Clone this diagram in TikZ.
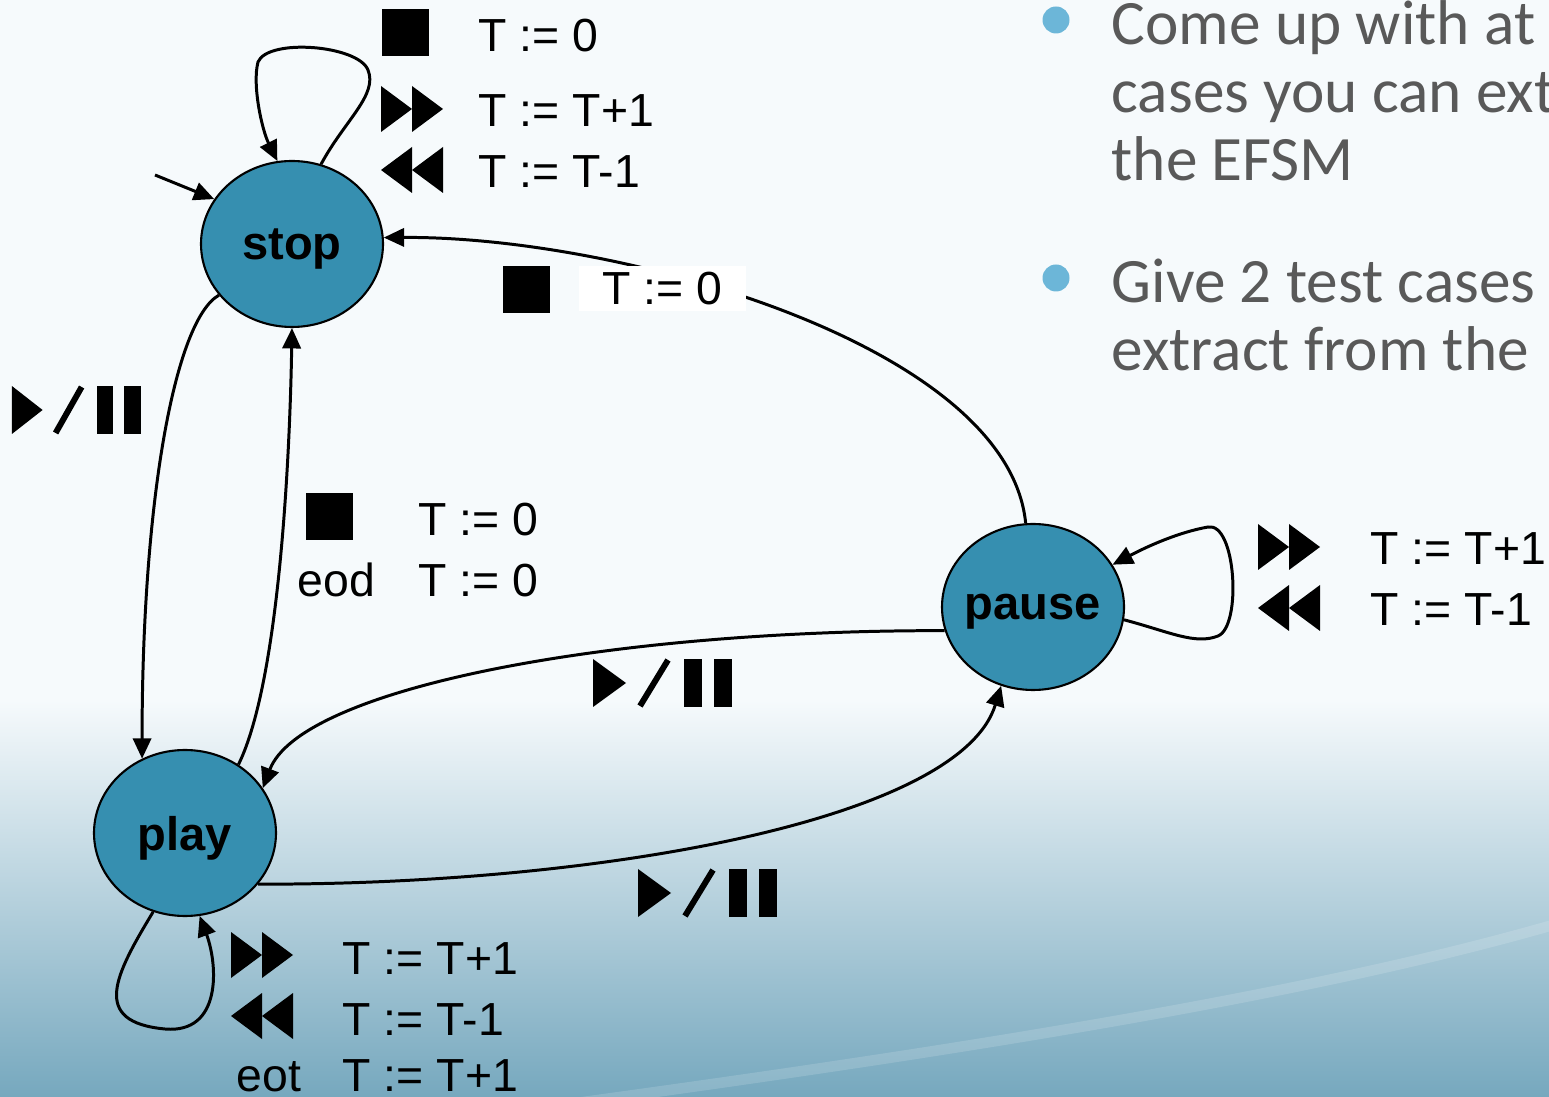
\documentclass[tikz,border=0pt]{standalone}
\usepackage{fontspec}
\setmainfont{Liberation Sans}
\newfontfamily\notefont{Carlito}
\usetikzlibrary{shapes.geometric,arrows.meta}

\definecolor{statefill}{RGB}{54,143,176}
\definecolor{notegray}{RGB}{89,89,89}
\definecolor{bulletblue}{RGB}{108,182,216}
\definecolor{bgtop}{RGB}{246,250,252}
\definecolor{bgmid}{RGB}{204,225,234}
\definecolor{bgbottom}{RGB}{118,168,190}

\tikzset{
  state/.style={ellipse, draw, line width=0.6pt, fill=statefill, minimum width=18.2mm,
    minimum height=16.6mm, inner xsep=-2pt, inner ysep=0pt, text depth=0pt,
    font=\fontsize{13.4}{16}\selectfont\bfseries},
  edge/.style={line width=0.85pt, -{Triangle[length=5.8pt,width=5.2pt]}},
  lbl/.style={anchor=base west, inner sep=0pt, font=\fontsize{13.2}{16}\selectfont},
  note/.style={anchor=base west, inner sep=0pt, text=notegray, font=\notefont\fontsize{18}{22}\selectfont},
  % little player buttons
  stopicon/.pic={\fill (-23.5,-23.5) rectangle (23.5,23.5);},
  fwdicon/.pic={\fill (-31,-23) -- (0,0) -- (-31,23) -- cycle;
                \fill (0,-23) -- (31,0) -- (0,23) -- cycle;},
  rewicon/.pic={\fill (31,-23) -- (0,0) -- (31,23) -- cycle;
                \fill (0,-23) -- (-31,0) -- (0,23) -- cycle;},
  plpicon/.pic={\fill (-70,-24) -- (-37,0) -- (-70,24) -- cycle;
                \draw[line width=1.7pt] (-23,23) -- (5,-23);
                \fill (21,-24) rectangle (39,24);
                \fill (51,-24) rectangle (69,24);}
}

\begin{document}
\begin{tikzpicture}[x=0.1mm,y=-0.1mm]
  \useasboundingbox (0,0) rectangle (1549,1097);
  % background
  \fill[bgtop] (0,0) rectangle (1549,1097);
  \shade[top color=bgtop, middle color=bgmid, bottom color=bgbottom] (0,700) rectangle (1549,1097);
  \draw[white, opacity=0.15, line width=3pt] (450,1120) .. controls (900,1060) and (1300,1000) .. (1570,920);

  % bullet text on the right
  \fill[bulletblue] (1056,20) circle[radius=1.35mm];
  \fill[bulletblue] (1056,278) circle[radius=1.35mm];
  \node[note] (n1) at (1111,45) {Come up with at};
  \node[note] (n2) at (1111,113) {cases you can ext};
  \node[note] (n3) at (1111,181) {the EFSM};
  \node[note] (n4) at (1111,303) {Give 2 test cases};
  \node[note] (n5) at (1111,371) {extract from the};

  % states
  \node[state] (stop) at (292,244) {stop};
  \node[state] (play) at (185,833) {play};
  \node[state] (pause) at (1033,607) {pause};
  \coordinate (init) at (155,175);

  % transitions
  \draw[edge] (init) -- (stop.150);
  \draw[edge] (stop.70) .. controls (345,120) and (378,95) .. (368,70) .. controls (358,45) and (268,38) .. (258,62) .. controls (252,85) and (262,130) .. (stop.100);
  \draw[edge] (stop.215) .. controls (175,320) and (142,500) .. (play.120);
  \draw[edge] (play.52) .. controls (280,680) and (290,450) .. (stop.south);
  \draw[edge] (pause.95) .. controls (1008,345) and (620,236) .. (stop.4);
  \draw[edge] (pause.-8) .. controls (1170,632) and (1195,645) .. (1218,636) .. controls (1242,626) and (1236,522) .. (1208,527) .. controls (1180,532) and (1150,545) .. (pause.28);
  \draw[edge] (pause.195) .. controls (600,630) and (300,690) .. (play.30);
  \draw[edge] (play.-35) .. controls (600,885) and (960,820) .. (pause.-112);
  \draw[edge] (play.-112) .. controls (115,975) and (90,1022) .. (165,1029) .. controls (222,1034) and (218,965) .. (play.-80);

  % labels at stop loop
  \pic at (405,33) {stopicon};
  \node[lbl] (tStop) at (478,52) {T := 0};
  \pic at (412,109) {fwdicon};
  \node[lbl] (tFwd) at (478,127) {T := T+1};
  \pic at (412,170) {rewicon};
  \node[lbl] (tRew) at (478,188) {T := T-1};

  % label pause -> stop
  \pic at (526,290) {stopicon};
  \node[fill=white, inner sep=0pt, minimum width=16.7mm, minimum height=4.5mm,
    font=\fontsize{13.2}{16}\selectfont] (tBack) at (662,289) {T := 0};

  % labels play -> stop
  \pic at (329,517) {stopicon};
  \node[lbl] (tPs) at (418,536) {T := 0};
  \node[lbl] (eod) at (297,597) {eod};
  \node[lbl] (tEod) at (418,597) {T := 0};

  % play/pause labels
  \pic[xscale=0.93] at (77,410) {plpicon};
  \pic at (663,683) {plpicon};
  \pic at (708,893) {plpicon};

  % labels at pause loop
  \pic at (1289,547) {fwdicon};
  \node[lbl] (tpFwd) at (1370,565) {T := T+1};
  \pic at (1289,608) {rewicon};
  \node[lbl] (tpRew) at (1370,626) {T := T-1};

  % labels at play loop
  \pic at (262,955) {fwdicon};
  \node[lbl] (tyFwd) at (342,974) {T := T+1};
  \pic at (262,1016) {rewicon};
  \node[lbl] (tyRew) at (342,1035) {T := T-1};
  \node[lbl] (eot) at (236,1091) {eot};
  \node[lbl] (tEot) at (342,1091) {T := T+1};
\end{tikzpicture}
\end{document}
